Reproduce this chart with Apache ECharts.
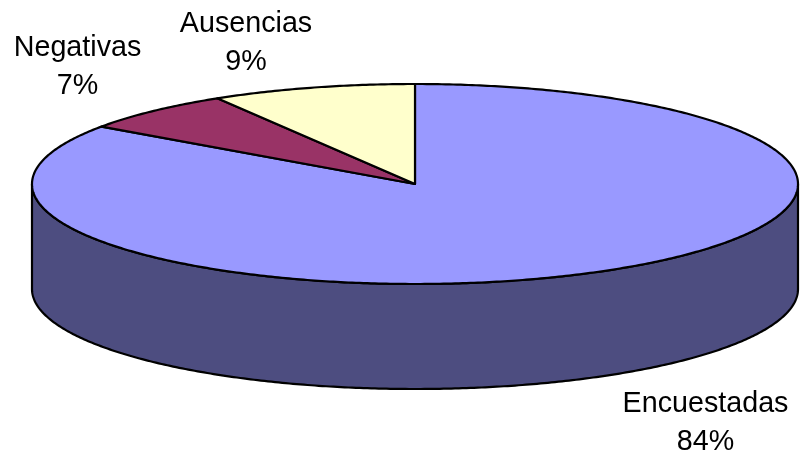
<!DOCTYPE html>
<html><head><meta charset="utf-8"><style>html,body{margin:0;padding:0;background:#fff}#c{width:801px;height:460px}</style>
<script src="https://cdn.jsdelivr.net/npm/echarts@6/dist/echarts.min.js"></script></head>
<body><div id="c"></div><script>
const categories = ['Encuestadas','Negativas','Ausencias'];
const values = [84.4, 6.6, 8.6];
const percentLabels = ['84%','7%','9%'];
const topColors = ['#9999FF','#993366','#FFFFCC'];
const sideColors = ['#4D4D80','#4D1A33','#808066'];
const cx=415, cy=184, rx=383, ry=100, depth=105;
const total = values.reduce((a,b)=>a+b,0);
const px = t => [cx+rx*Math.sin(t), cy-ry*Math.cos(t)];
const style = c => ({fill:c, stroke:'#000', lineWidth:2.2, lineJoin:'round'});
function arc(a,b){const n=Math.max(2,Math.ceil(Math.abs(b-a)/0.01));const r=[];for(let i=0;i<=n;i++)r.push(px(a+(b-a)*i/n));return r;}
function renderItem(params, api){
  const i = params.dataIndex;
  let s=0; for(let k=0;k<i;k++) s+=values[k];
  const a=s/total*2*Math.PI, b=(s+api.value(0))/total*2*Math.PI;
  const children=[];
  const lo=Math.max(a,Math.PI/2), hi=Math.min(b,Math.PI*1.5);
  if(hi>lo){
    const top=arc(lo,hi);
    const bottom=top.map(p=>[p[0],p[1]+depth]).reverse();
    children.push({type:'polygon',shape:{points:top.concat(bottom)},style:style(sideColors[i])});
  }
  children.push({type:'polygon',shape:{points:[[cx,cy]].concat(arc(a,b))},style:style(topColors[i])});
  return {type:'group',children};
}
const labelPos=[[705.5,423],[77.5,67],[246,43]];
const chart=echarts.init(document.getElementById('c'),null,{renderer:'canvas'});
chart.setOption({
  animation:false,
  graphic:categories.map((c,i)=>({type:'text',z:10,x:labelPos[i][0],y:labelPos[i][1],
    style:{text:c+'\n'+percentLabels[i],align:'center',verticalAlign:'middle',
      font:'28.7px "Liberation Sans", Arial, sans-serif',lineHeight:37.5,fill:'#000'}})),
  series:[{type:'custom',coordinateSystem:'none',renderItem,clip:false,
    data:values.map(v=>[v])}]
});
</script></body></html>
